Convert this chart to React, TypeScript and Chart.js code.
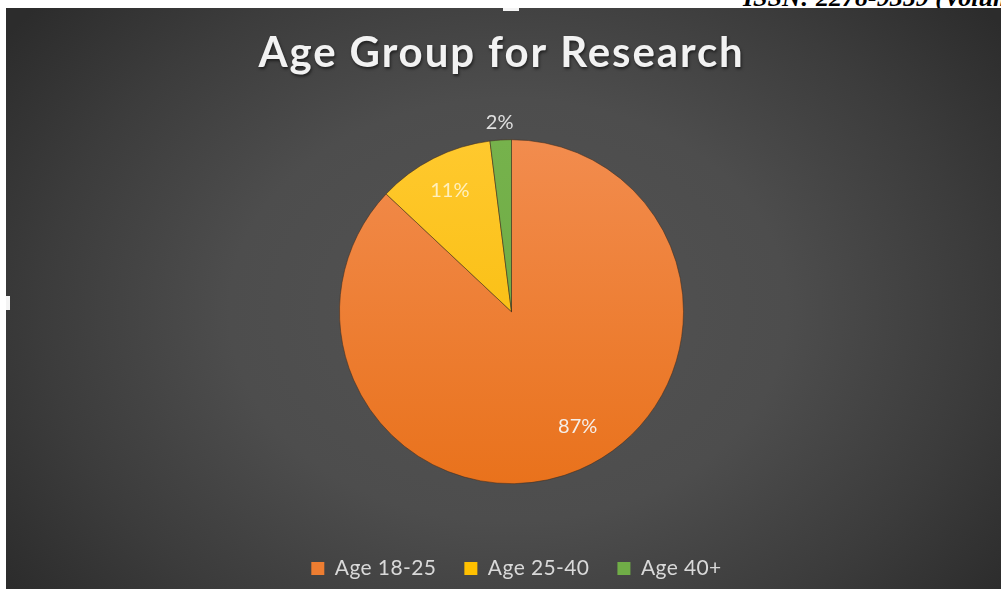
import React, { useEffect, useRef } from "react";
import { Chart, registerables } from "chart.js";
Chart.register(...registerables);

const chartTitle = "Age Group for Research";
const categories = ["Age 18-25", "Age 25-40", "Age 40+"];
const shares = [87, 11, 2];
const labelTexts = ["87%", "11%", "2%"];
const sliceColors = ["#ED7D31", "#FFC000", "#70AD47"];
const sliceTop = ["#F28C4E", "#FFC92E", "#76B24C"];
const sliceBottom = ["#E9721C", "#F6B800", "#69A841"];
const labelColors = ["#F5EEE8", "#FFF0BE", "#E0E0E0"];
const labelRadius = [0.77, 0.79, 1.1];
const labelShift = [-6.6, 0, 0];

const textStyler = {
  id: "textStyler",
  afterLayout(chart: any) {
    const tb = chart.titleBlock;
    if (tb && !tb.__wrapped) {
      const orig = tb.draw.bind(tb);
      tb.draw = (...args: any[]) => {
        const c = chart.ctx as any;
        c.save();
        c.letterSpacing = "1.9px";
        c.shadowColor = "rgba(0,0,0,0.55)";
        c.shadowOffsetX = 1;
        c.shadowOffsetY = 2;
        c.shadowBlur = 3;
        c.translate(-10, 0);
        orig(...args);
        c.restore();
      };
      tb.__wrapped = true;
    }
  },
  beforeDraw(chart: any) {
    const c = chart.ctx as any;
    c.letterSpacing = "0.4px";
  },
  beforeDatasetsDraw(chart: any) {
    const c = chart.ctx as any;
    c.letterSpacing = "0px";
  },
};

const pctLabels = {
  id: "pctLabels",
  afterDatasetsDraw(chart: any) {
    const meta = chart.getDatasetMeta(0);
    const c = chart.ctx;
    c.save();
    c.font = "20px Lato";
    c.textAlign = "center";
    c.textBaseline = "middle";
    meta.data.forEach((arc: any, i: number) => {
      const p = arc.getProps(["x", "y", "startAngle", "endAngle", "outerRadius"], true);
      const a = (p.startAngle + p.endAngle) / 2 + (labelShift[i] * Math.PI) / 180;
      const r = p.outerRadius * labelRadius[i];
      c.fillStyle = labelColors[i];
      c.fillText(labelTexts[i], p.x + r * Math.cos(a), p.y + r * Math.sin(a));
    });
    c.restore();
  },
};

function sliceFill(context: any) {
  const i = context.dataIndex;
  const chart = context.chart;
  const area = chart.chartArea;
  if (!area) return sliceColors[i];
  const cy = (area.top + area.bottom) / 2;
  const g = chart.ctx.createLinearGradient(0, cy - 172, 0, cy + 172);
  g.addColorStop(0, sliceTop[i]);
  g.addColorStop(1, sliceBottom[i]);
  return g;
}

export default function App() {
  const ref = useRef<HTMLCanvasElement>(null);
  useEffect(() => {
    const chart = new Chart(ref.current!, {
      type: "pie",
      data: {
        labels: categories,
        datasets: [
          {
            data: shares,
            backgroundColor: sliceFill,
            borderColor: "rgba(70,45,30,0.55)",
            borderWidth: 1,
            hoverOffset: 0,
            radius: 172,
          } as any,
        ],
      },
      options: {
        animation: false,
        responsive: false,
        events: [],
        layout: { padding: { left: 20, top: 0, bottom: 0, right: 0 } },
        plugins: {
          tooltip: { enabled: false },
          title: {
            display: true,
            text: chartTitle,
            color: "#F2F2F2",
            font: { family: "Lato", size: 42, weight: "bold" },
            padding: { top: 20, bottom: 15 },
          } as any,
          legend: {
            position: "bottom",
            labels: {
              color: "#D9D9D9",
              font: { family: "Lato", size: 21 },
              boxWidth: 13,
              boxHeight: 13,
              padding: 28,
              generateLabels: () =>
                categories.map((t, i) => ({
                  text: t,
                  fillStyle: sliceColors[i],
                  strokeStyle: sliceColors[i],
                  lineWidth: 0,
                  hidden: false,
                  index: i,
                  fontColor: "#D9D9D9",
                })),
            },
          } as any,
        },
      },
      plugins: [textStyler, pctLabels],
    });
    return () => chart.destroy();
  }, []);

  return (
    <div style={{ position: "absolute", left: 0, top: 0, width: 1001, height: 589, overflow: "hidden", background: "#fff" }}>
      <div
        style={{
          position: "absolute",
          left: 743,
          top: -15,
          whiteSpace: "nowrap",
          font: "italic bold 26px 'Liberation Serif', serif",
          lineHeight: "26px",
          color: "#000",
        }}
      >
        ISSN: 2278-9359 (Volume
      </div>
      <div
        style={{
          position: "absolute",
          left: 6,
          top: 8,
          width: 995,
          height: 581,
          overflow: "hidden",
          background:
            "radial-gradient(ellipse 620px 470px at 50.5% 52%, #535353 0%, #4d4d4d 45%, #3c3c3c 75%, #2c2c2c 100%)",
        }}
      >
        <canvas ref={ref} width={991} height={581} style={{ display: "block", width: 991, height: 581 }} />
      </div>
      <div style={{ position: "absolute", left: 503, top: 8, width: 16, height: 3, background: "#f4f4f4" }} />
      <div style={{ position: "absolute", left: 6, top: 296, width: 4, height: 14, background: "#f4f4f4" }} />
    </div>
  );
}
